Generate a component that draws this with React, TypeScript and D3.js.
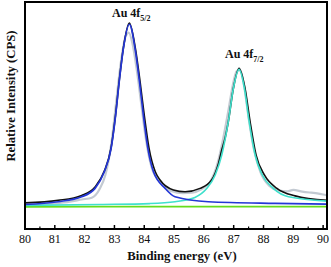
import React from 'react';
import * as d3 from 'd3';

// binding energy (eV) / relative intensity pairs
const rawData: [number, number][] = [
  [80.0, 10.8], [80.5, 10.9], [81.0, 11.3], [81.5, 12.0], [81.9, 13.0], [82.24, 13.8],
  [82.5, 17.5], [82.7, 24.0], [82.9, 38.0], [83.05, 55.0], [83.2, 72.0], [83.38, 85.0],
  [83.48, 86.5], [83.6, 82.0], [83.75, 70.0], [83.9, 55.0], [84.05, 40.0], [84.25, 27.0],
  [84.55, 20.5], [84.9, 16.8], [85.3, 15.8], [85.6, 16.0], [85.9, 17.4], [86.2, 20.6],
  [86.45, 28.5], [86.65, 40.0], [86.82, 52.0], [86.98, 64.0], [87.1, 69.5], [87.22, 70.0],
  [87.35, 63.0], [87.5, 49.0], [87.68, 35.0], [87.9, 25.0], [88.2, 19.0], [88.5, 17.0],
  [88.8, 16.6], [89.0, 17.2], [89.3, 16.5], [89.6, 16.0], [89.8, 15.7], [90.0, 15.2], [90.13, 14.8],
];

const envelope: [number, number][] = [
  [80.0, 11.5], [81.11, 12.6], [81.9, 14.8], [82.35, 18.5], [82.66, 25.5], [82.89, 36.0],
  [83.04, 50.5], [83.16, 65.2], [83.3, 79.8], [83.5, 90.7], [83.7, 79.8], [83.86, 64.9],
  [84.0, 50.2], [84.16, 35.6], [84.37, 25.2], [84.53, 21.6], [84.98, 17.2], [85.37, 16.4],
  [85.87, 17.9], [86.26, 21.6], [86.49, 28.9], [86.6, 34.8], [86.71, 40.0], [86.82, 47.3],
  [86.99, 62.0], [87.18, 70.8], [87.38, 62.0], [87.55, 47.3], [87.75, 32.6], [88.03, 23.8],
  [88.45, 17.9], [89.06, 14.6], [90.13, 12.6],
];

const peak52: [number, number][] = [
  [80.0, 10.8], [81.11, 12.0], [81.9, 14.2], [82.35, 17.9], [82.66, 25.2], [82.89, 35.6],
  [83.04, 50.2], [83.16, 64.9], [83.3, 79.6], [83.5, 90.2], [83.69, 79.6], [83.84, 64.9],
  [83.97, 50.2], [84.12, 35.6], [84.31, 25.2], [84.7, 17.9], [85.03, 14.2], [86.15, 12.0],
  [88.39, 11.3], [90.13, 11.0],
];

const peak72: [number, number][] = [
  [80.0, 10.4], [82.52, 10.8], [84.19, 11.2], [85.03, 12.0], [85.7, 13.9], [86.1, 17.9],
  [86.38, 23.8], [86.6, 32.6], [86.82, 47.3], [86.99, 62.0], [87.18, 70.3], [87.36, 62.0],
  [87.52, 47.3], [87.72, 32.6], [87.96, 23.8], [88.33, 17.9], [88.84, 14.2], [90.13, 12.3],
];

const background: [number, number][] = [
  [80.0, 9.8], [85.0, 9.85], [90.13, 9.9],
];

const majorTicks = [80, 81, 82, 83, 84, 85, 86, 87, 88, 89, 90];
const minorTicks = [80.5, 81.5, 82.5, 83.5, 84.5, 85.5, 86.5, 87.5, 88.5, 89.5];

const serif = '"Liberation Serif", "Times New Roman", serif';

export default function App() {
  const left = 25;
  const right = 327;
  const top = 2;
  const bottom = 229;

  const x = d3.scaleLinear().domain([80, 90.13]).range([left, right]);
  const y = d3.scaleLinear().domain([0, 100]).range([bottom, top]);

  const line = d3
    .line<[number, number]>()
    .x((d) => x(d[0]))
    .y((d) => y(d[1]))
    .curve(d3.curveMonotoneX);

  return (
    <svg
      width={331}
      height={267}
      style={{ position: 'fixed', left: 0, top: 0, background: '#fff' }}
      fontFamily={serif}
    >
      <defs>
        <clipPath id="plot">
          <rect x={left} y={top} width={right - left} height={bottom - top} />
        </clipPath>
      </defs>

      <g clipPath="url(#plot)" fill="none" strokeLinejoin="round">
        <path d={line(rawData) ?? ''} stroke="#c3cad2" strokeWidth={2.2} />
        <path d={line(envelope) ?? ''} stroke="#111" strokeWidth={1.6} />
        <path d={line(background) ?? ''} stroke="#66dd1c" strokeWidth={1.8} />
        <path d={line(peak72) ?? ''} stroke="#3fe0cc" strokeWidth={1.6} />
        <path d={line(peak52) ?? ''} stroke="#2436d6" strokeWidth={1.7} />
      </g>

      {/* frame */}
      <rect
        x={left}
        y={top}
        width={right - left}
        height={bottom - top}
        fill="none"
        stroke="#000"
        strokeWidth={2}
      />

      {/* ticks point inward */}
      {majorTicks.map((t) => (
        <line key={'M' + t} x1={x(t)} x2={x(t)} y1={bottom} y2={bottom - 4} stroke="#000" strokeWidth={1.5} />
      ))}
      {minorTicks.map((t) => (
        <line key={'m' + t} x1={x(t)} x2={x(t)} y1={bottom} y2={bottom - 2.5} stroke="#000" strokeWidth={1.2} />
      ))}
      {majorTicks.map((t) => (
        <text key={'t' + t} x={x(t)} y={243} textAnchor="middle" fontSize={12} fill="#111">
          {t}
        </text>
      ))}

      <text x={182} y={260} textAnchor="middle" fontSize={12.7} fontWeight="bold" fill="#111">
        Binding energy (eV)
      </text>
      <text
        transform="translate(15,96) rotate(-90)"
        textAnchor="middle"
        fontSize={12.7}
        fontWeight="bold"
        fill="#111"
      >
        Relative Intensity (CPS)
      </text>

      <text x={112} y={17} fontSize={12} fontWeight="bold" fill="#111">
        Au 4f<tspan fontSize={8} dy={4}>5/2</tspan>
      </text>
      <text x={225} y={57.5} fontSize={12} fontWeight="bold" fill="#111">
        Au 4f<tspan fontSize={8} dy={4}>7/2</tspan>
      </text>
    </svg>
  );
}
